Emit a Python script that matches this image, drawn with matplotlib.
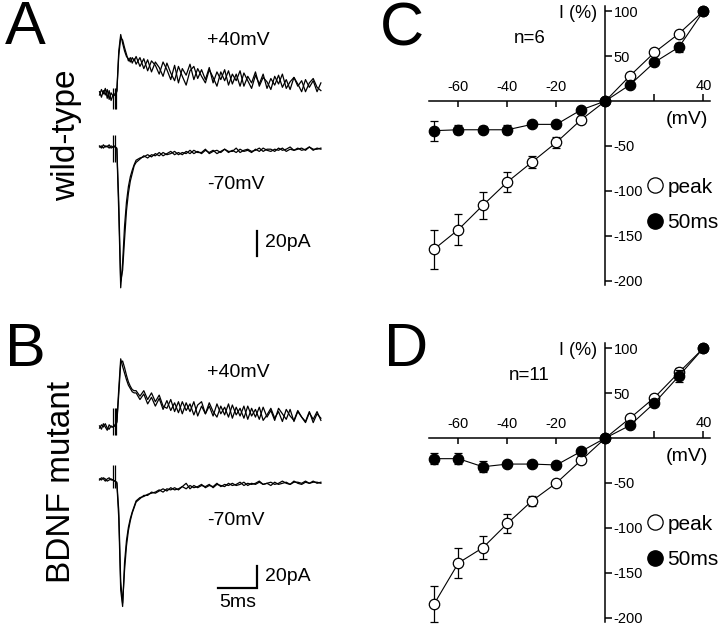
import numpy as np
import matplotlib
matplotlib.use("Agg")
import matplotlib.pyplot as plt
from matplotlib.lines import Line2D
from matplotlib.ticker import FixedLocator, FixedFormatter

plt.rcParams['font.family'] = ['Liberation Sans', 'DejaVu Sans']
plt.rcParams['axes.unicode_minus'] = False

W, H = 720, 628

# ---- I-V data (C: wild-type, D: BDNF mutant) ----
mv = [-70, -60, -50, -40, -30, -20, -10, 0, 10, 20, 30, 40]
c_peak = [-165, -143, -116, -90, -68, -46, -21, 0, 28, 54, 75, 100]
c_peak_err = [22, 17, 15, 11, 7, 6, 3, 0, 3, 3, 3, 0]
c_50ms = [-33, -32, -32, -32, -26, -26, -10, 0, 18, 43, 60, 100]
c_50ms_err = [11, 5, 4, 5, 3, 3, 2, 0, 2, 3, 5, 0]
d_peak = [-185, -139, -122, -95, -70, -50, -25, 0, 22, 45, 73, 100]
d_peak_err = [20, 17, 13, 11, 6, 3, 3, 0, 3, 3, 5, 0]
d_50ms = [-23, -23, -32, -29, -29, -30, -15, 0, 14, 39, 69, 100]
d_50ms_err = [6, 6, 6, 3, 3, 3, 2, 0, 2, 3, 7, 0]

# ---- current traces (pA relative to baseline), time in ms ----
t_ms = np.r_[np.arange(-1.75, 2.8, 0.25), np.arange(3.0, 27.01, 0.5)]

a_pos_1 = [0, 5, 1, 6, -3, 4, -5, 0, 1, 4, 40, 55, 47, 40, 35, 33, 30, 34, 31,
           35, 26, 33, 22, 31, 27, 19, 30, 23, 14, 27, 11, 24, 18, 28, 14, 24, 17, 11, 23,
           16, 8, 21, 13, 22, 10, 19, 8, 20, 13, 6, 18, 10, 19, 6, 15, 9, 18, 7, 14,
           5, 16, 10, 3, 14, 7, 13, 3, 11]
a_pos_2 = [3, -2, 4, 0, 5, -4, 2, -1, 0, 3, 36, 52, 50, 43, 37, 31, 34, 29, 33,
           28, 34, 24, 32, 21, 30, 25, 17, 29, 20, 13, 26, 17, 9, 22, 26, 15, 23, 14, 25,
           11, 21, 14, 23, 9, 19, 13, 22, 8, 17, 11, 21, 8, 16, 12, 5, 17, 10, 19, 6,
           12, 16, 8, 13, 3, 11, 15, 7, 4]
a_neg_1 = [1, -1, 2, 0, 1, -1, 1, 0, 1, -2, -60, -128, -105, -72, -50, -36, -27, -21, -16,
           -12, -10, -9, -7, -9, -6, -8, -5, -7, -6, -4, -7, -5, -6, -3, -6, -4, -6, -3, -5,
           -3, -6, -4, -2, -5, -3, -5, -2, -4, -3, -5, -2, -4, -1, -3, -4, -2, -3, -1, -4,
           -2, -3, -1, -3, -2, 0, -3, -1, -2]
a_neg_2 = [0, 1, -1, 1, 0, 2, -1, 0, 0, -1, -50, -122, -112, -84, -58, -42, -31, -24, -17,
           -14, -11, -8, -10, -7, -8, -5, -8, -6, -4, -7, -5, -7, -4, -6, -3, -5, -5, -2, -6,
           -4, -3, -5, -2, -4, -4, -1, -5, -3, -2, -4, -3, -1, -4, -2, -2, -4, -1, -3, -2,
           0, -3, -2, -1, -3, 0, -2, -2, -1]
b_pos_1 = [1, -2, 3, 0, -3, 2, 0, 0, 2, 5, 35, 62, 55, 49, 43, 38, 35, 32, 31,
           31, 25, 30, 21, 27, 19, 26, 16, 24, 15, 22, 13, 23, 15, 21, 11, 20, 23, 12, 19,
           10, 21, 12, 18, 9, 20, 11, 17, 8, 19, 10, 16, 7, 18, 9, 15, 6, 17, 12, 7,
           16, 5, 14, 9, 4, 13, 7, 14, 6]
b_pos_2 = [-1, 2, 0, 3, -1, -2, 1, 0, 1, 4, 30, 58, 60, 54, 47, 41, 37, 34, 33,
           33, 28, 33, 25, 31, 23, 29, 19, 17, 25, 14, 23, 12, 22, 14, 23, 10, 19, 12, 22,
           14, 9, 19, 11, 21, 8, 18, 10, 19, 7, 17, 9, 18, 6, 11, 17, 8, 14, 5, 16,
           10, 6, 15, 9, 5, 14, 4, 12, 8]
b_neg_1 = [1, 0, 2, 1, -1, 0, 1, 0, -1, -3, -35, -100, -115, -75, -55, -43, -35, -29, -24,
           -19, -16, -15, -13, -12, -11, -9, -11, -8, -9, -7, -9, -6, -8, -5, -7, -6, -4, -7, -5,
           -6, -3, -6, -4, -5, -3, -5, -4, -2, -5, -3, -4, -2, -4, -3, -5, -2, -4, -3, -2,
           -4, -1, -3, -4, -2, -3, -1, -3, -2]
b_neg_2 = [0, 2, 1, -1, 1, 2, 0, 0, -1, -2, -28, -92, -112, -82, -60, -46, -37, -30, -25,
           -20, -17, -14, -14, -11, -12, -10, -8, -10, -7, -9, -8, -6, -3, -8, -5, -7, -5, -6, -4,
           -7, -4, -5, -6, -3, -5, -4, -2, -5, -3, -4, -3, -1, -4, -3, -2, -4, -3, -1, -3,
           -4, -2, -2, -3, -1, -3, -2, -2, -3]

# stimulus artifacts: times of the vertical spikes
art_t3 = [0, 0.2, 0.4]
art_t2 = [0, 0.25]

fig = plt.figure(figsize=(W / 100, H / 100), dpi=100)


def px_axes(x0, y0, x1, y1):
    return fig.add_axes([x0 / W, 1 - y1 / H, (x1 - x0) / W, (y1 - y0) / H])


def ftext(x, y, s, **kw):
    fig.text(x / W, 1 - y / H, s, **kw)


# ---------- trace panels ----------
def trace_panel(y0, y1, base_px, pos_px, pos, neg, art_pos, art_neg):
    ax = px_axes(90, y0, 330, y1)
    ax.set_xlim((90 - 113) / 7.7, (330 - 113) / 7.7)
    ax.set_ylim(-(y1 - base_px) / 1.1, (base_px - y0) / 1.1)
    ax.axis('off')
    off = (base_px - pos_px) / 1.1
    for s in pos:
        ax.plot(t_ms, np.array(s) + off, color='k', lw=0.9, clip_on=False)
    for s in neg:
        ax.plot(t_ms, s, color='k', lw=0.9, clip_on=False)
    ax.vlines(art_pos[0], off + art_pos[2], off + art_pos[1], color='k', lw=0.9)
    ax.vlines(art_neg[0], art_neg[2], art_neg[1], color='k', lw=0.9)
    return ax


axA = trace_panel(0, 314, 147, 95, [a_pos_1, a_pos_2], [a_neg_1, a_neg_2],
                  (art_t3, 6, -13), (art_t2, 11, -14))
axB = trace_panel(314, 628, 480, 427, [b_pos_1, b_pos_2], [b_neg_1, b_neg_2],
                  (art_t3, 17, -7), (art_t2, 14, -7))

# scale bars
axA.plot([18.7, 18.7], [-99, -76], color='k', lw=1.6)
axA.text(19.7, -87, '20pA', fontsize=14, va='center')
axB.plot([13.7, 18.7, 18.7], [-98, -98, -78], color='k', lw=1.6, solid_joinstyle='miter')
axB.text(19.7, -88, '20pA', fontsize=14, va='center')
axB.text(16.2, -111, '5ms', fontsize=14, va='center', ha='center')

axA.text(12.2, 97, '+40mV', fontsize=14, va='center')
axA.text(12.2, -34, '-70mV', fontsize=14, va='center')
axB.text(12.2, 98, '+40mV', fontsize=14, va='center')
axB.text(12.2, -37, '-70mV', fontsize=14, va='center')

ftext(25, 28, 'A', fontsize=44, ha='center', va='center')
ftext(25, 350, 'B', fontsize=44, ha='center', va='center')
ftext(67, 135, 'wild-type', fontsize=24, rotation=90, ha='center', va='center')
ftext(62, 482, 'BDNF mutant', fontsize=24, rotation=90, ha='center', va='center')


# ---------- I-V panels ----------
def iv_panel(y_top, peak, peak_err, late, late_err, n_label):
    ax = px_axes(429, y_top, 709.6, y_top + 279.6)
    ax.set_xlim(-72, 42.5)
    ax.set_ylim(-205, 106)
    for s in ['left', 'bottom']:
        ax.spines[s].set_visible(False)
    ax.spines['right'].set_position(('data', 0))
    ax.spines['top'].set_position(('data', 0))
    for s in ['right', 'top']:
        ax.spines[s].set_linewidth(1.1)
    ax.yaxis.set_ticks_position('right')
    ax.xaxis.set_ticks_position('top')
    ax.set_yticks([100, 50, -50, -100, -150, -200])
    ax.tick_params(axis='y', direction='out', length=5, width=1.1, labelsize=10.5, pad=1)
    ax.xaxis.set_major_locator(FixedLocator([20, 40]))
    ax.xaxis.set_major_formatter(FixedFormatter(['', '40']))
    ax.xaxis.set_minor_locator(FixedLocator([-60, -40, -20]))
    ax.xaxis.set_minor_formatter(FixedFormatter(['-60', '-40', '-20']))
    ax.tick_params(axis='x', which='major', direction='out', length=5, width=1.1,
                   labelsize=10.5, pad=1)
    ax.tick_params(axis='x', which='minor', direction='in', length=4, width=1.1,
                   labelsize=10.5, pad=5, top=True, labeltop=True)

    ax.errorbar(mv, peak, yerr=peak_err, fmt='-o', color='k', mfc='white', mec='k',
                ms=7.5, mew=0.9, lw=0.8, elinewidth=0.9, capsize=3, capthick=0.9,
                clip_on=False, zorder=3)
    ax.errorbar(mv, late, yerr=late_err, fmt='-o', color='k', mfc='k', mec='k',
                ms=7.5, mew=0.9, lw=0.8, elinewidth=0.9, capsize=3, capthick=0.9,
                clip_on=False, zorder=4)

    ax.text(-3.5, 97, 'I (%)', fontsize=13, ha='right', va='center')
    ax.text(-31, 70, n_label, fontsize=13.5, ha='center', va='center')
    ax.text(42, -21, '(mV)', fontsize=14, ha='right', va='center')

    handles = [Line2D([], [], ls='none', marker='o', ms=11, mfc='white', mec='k', mew=0.9),
               Line2D([], [], ls='none', marker='o', ms=11, mfc='k', mec='k')]
    ax.legend(handles, ['peak', '50ms'], loc='upper left', bbox_to_anchor=(0.776, 0.385),
              frameon=False, fontsize=15, handlelength=0.8, handletextpad=0.2,
              labelspacing=0.8, borderpad=0, borderaxespad=0)
    return ax


iv_panel(5.7, c_peak, c_peak_err, c_50ms, c_50ms_err, 'n=6')
iv_panel(342.7, d_peak, d_peak_err, d_50ms, d_50ms_err, 'n=11')
ftext(402, 30, 'C', fontsize=44, ha='center', va='center')
ftext(406, 350, 'D', fontsize=44, ha='center', va='center')

fig.savefig('out.png', dpi=100)
